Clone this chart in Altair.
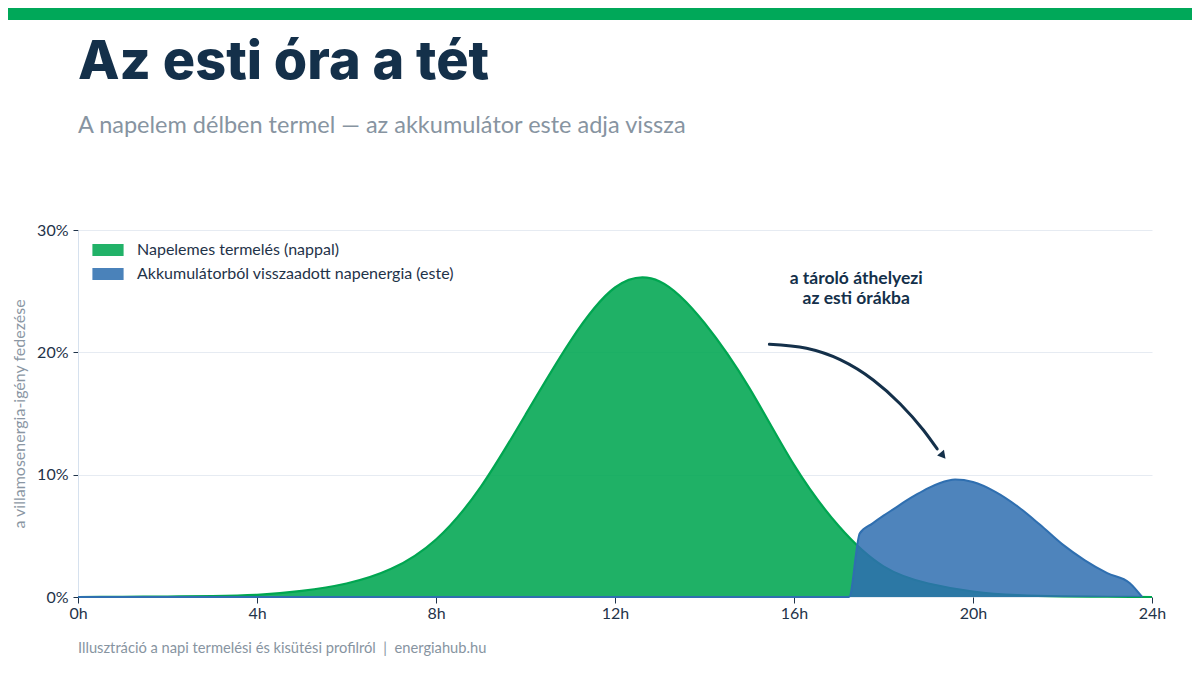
import altair as alt
import pandas as pd

# --- data ---
solar_hours = list(range(0, 25))
solar_pct = [0, 0.02, 0.04, 0.08, 0.18, 0.5, 1.1, 2.3, 4.7, 9.0, 14.9, 20.9, 25.3, 25.8, 22.4, 17.1,
             10.8, 5.8, 2.5, 1.1, 0.45, 0.15, 0.05, 0.02, 0]

battery_hours = [0, 17.23, 17.47, 17.75, 18, 18.25, 18.5, 18.75, 19, 19.25, 19.6, 20, 20.5, 21, 21.5, 22,
                 22.5, 23, 23.5, 23.78]
battery_pct = [0, 0, 5.2, 6.0, 6.65, 7.25, 7.85, 8.4, 8.9, 9.3, 9.6, 9.4, 8.6, 7.4, 5.9, 4.3,
               3.0, 1.95, 1.15, 0]

series_names = ["Napelemes termelés (nappal)", "Akkumulátorból visszaadott napenergia (este)"]
series_colors = ["#00a651", "#2f6fb0"]

arrow_hours = [15.45, 16.28, 17.03, 17.77, 18.37, 18.89, 19.2]
arrow_pct = [20.66, 20.33, 19.4, 17.74, 15.8, 13.65, 12.1]
arrow_head = [19.33, 11.55]

annot_lines = ["a tároló áthelyezi", "az esti órákba"]
annot_hour = 17.39
annot_pct = [26.0, 24.35]

x_ticks = [0, 4, 8, 12, 16, 20, 24]
y_ticks = [0, 10, 20, 30]

title_text = "Az esti óra a tét"
subtitle_text = "A napelem délben termel — az akkumulátor este adja vissza"
footer_text = "Illusztráció a napi termelési és kisütési profilról\u00a0\u00a0|\u00a0\u00a0energiahub.hu"
y_title = "a villamosenergia-igény fedezése"

W, H = 1074, 367
PAD = {"left": 70, "top": 222, "right": 40, "bottom": 70}

solar_df = pd.DataFrame({"hour": solar_hours, "pct": solar_pct, "series": series_names[0]})
bat_df = pd.DataFrame({"hour": battery_hours, "pct": battery_pct, "series": series_names[1]})
arrow_df = pd.DataFrame({"hour": arrow_hours, "pct": arrow_pct, "i": list(range(len(arrow_hours)))})
head_df = pd.DataFrame({"hour": [arrow_head[0]], "pct": [arrow_head[1]]})
annot_df = pd.DataFrame({"hour": [annot_hour] * 2, "pct": annot_pct, "txt": annot_lines})
one = pd.DataFrame({"a": [0]})

x_enc = alt.X("hour:Q", scale=alt.Scale(domain=[0, 24], nice=False),
              axis=alt.Axis(values=x_ticks, labelExpr="datum.value + 'h'", title=None, grid=False,
                            domain=False, ticks=True, tickSize=6, tickColor="#1f3349", labelFlush=False,
                            labelFontSize=16, labelColor="#1f3349", labelFont="Lato", labelPadding=2))
y_enc = alt.Y("pct:Q", scale=alt.Scale(domain=[0, 30], nice=False),
              axis=alt.Axis(values=y_ticks, labelExpr="datum.value + '%'", title=y_title,
                            titleFont="Lato", titleFontSize=16, titleFontWeight="normal", titleColor="#8a96a3",
                            titlePadding=9, grid=True, gridColor="#e6ebf2", domain=True, labelFlush=False,
                            domainColor="#d6e1ee", ticks=True, tickSize=5, tickColor="#1f3349",
                            labelFontSize=16, labelColor="#1f3349", labelFont="Lato", labelPadding=5))

color_enc = alt.Color("series:N", scale=alt.Scale(domain=series_names, range=series_colors),
                      legend=alt.Legend(orient="none", legendX=22, legendY=12, title=None,
                                        symbolType="M-2.6,-1L2.6,-1L2.6,1L-2.6,1Z",
                                        symbolSize=144, symbolOpacity=0.87, symbolStrokeWidth=0,
                                        labelFont="Lato", labelFontSize=16, labelColor="#1f3349",
                                        labelLimit=0, labelOffset=21, rowPadding=8, padding=0))

solar = alt.Chart(solar_df).mark_area(
    interpolate="natural", opacity=0.88,
    line={"color": "#00a651", "strokeWidth": 2.2, "opacity": 1}
).encode(x=x_enc, y=y_enc, color=color_enc)

battery = alt.Chart(bat_df).mark_area(
    interpolate="monotone", opacity=0.85,
    line={"color": "#2f64a8", "strokeWidth": 2, "opacity": 1}
).encode(x=x_enc, y=y_enc, color=color_enc)

arrow = alt.Chart(arrow_df).mark_line(
    interpolate="monotone", color="#14304a", strokeWidth=3, strokeCap="round"
).encode(x="hour:Q", y="pct:Q", order="i:Q")

head = alt.Chart(head_df).mark_point(
    shape="triangle-down", filled=True, color="#14304a", size=80, angle=320, opacity=1
).encode(x="hour:Q", y="pct:Q")

annot = alt.Chart(annot_df).mark_text(
    font="Lato", fontSize=17.5, fontWeight="bold", color="#14304a", align="center", baseline="middle"
).encode(x="hour:Q", y="pct:Q", text="txt:N")

topbar = alt.Chart(one).mark_rect(color="#00a859").encode(
    x=alt.value(-PAD["left"]), x2=alt.value(W + PAD["right"]),
    y=alt.value(-PAD["top"]), y2=alt.value(-PAD["top"] + 12))

title = alt.Chart(one).mark_text(
    text=title_text, font="Inter", fontSize=54, fontWeight=800, color="#14304a",
    align="left", baseline="alphabetic"
).encode(x=alt.value(0), y=alt.value(-151))

subtitle = alt.Chart(one).mark_text(
    text=subtitle_text, font="Lato", fontSize=23.5, color="#8794a1",
    align="left", baseline="alphabetic"
).encode(x=alt.value(0), y=alt.value(-97))

footer = alt.Chart(one).mark_text(
    text=footer_text, font="Lato", fontSize=14.7, color="#8794a1",
    align="left", baseline="alphabetic"
).encode(x=alt.value(0), y=alt.value(423))

chart = alt.layer(solar, battery, arrow, head, annot, topbar, title, subtitle, footer).properties(
    width=W, height=H,
    autosize=alt.AutoSizeParams(type="none"),
    padding=PAD,
    background="white",
).configure_view(strokeWidth=0)

chart.save("out.html", embed_options={"renderer": "svg", "actions": False})
